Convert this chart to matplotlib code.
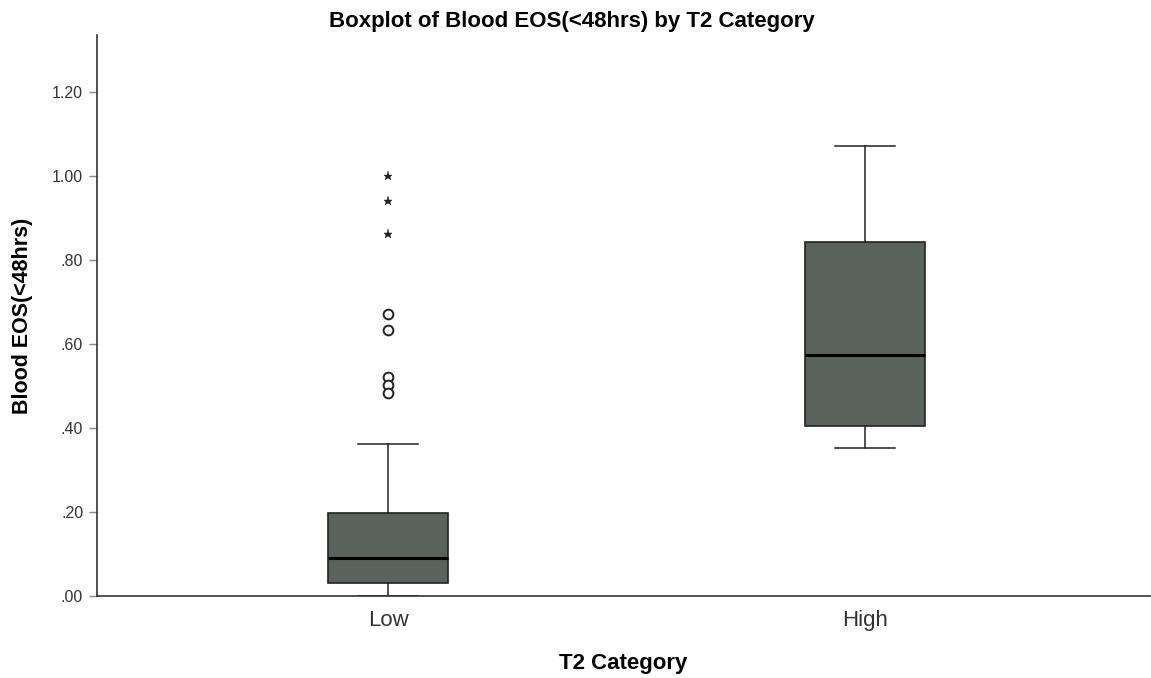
import matplotlib
matplotlib.use("Agg")
import matplotlib.pyplot as plt

plt.rcParams["font.family"] = ["Liberation Sans", "DejaVu Sans"]

# values
categories = ["Low", "High"]
q1 = [0.031, 0.405]
median = [0.090, 0.574]
q3 = [0.198, 0.843]
whisker_low = [0.000, 0.352]
whisker_high = [0.362, 1.071]
outliers_low = [0.671, 0.633, 0.521, 0.502, 0.483]
extremes_low = [1.000, 0.940, 0.862]
y_ticks = [0.0, 0.2, 0.4, 0.6, 0.8, 1.0, 1.2]

box_color = "#59625b"
axis_color = "#333333"

stats = []
for i, name in enumerate(categories):
    stats.append({
        "label": name,
        "q1": q1[i],
        "med": median[i],
        "q3": q3[i],
        "whislo": whisker_low[i],
        "whishi": whisker_high[i],
        "fliers": outliers_low if i == 0 else [],
    })

fig = plt.figure(figsize=(11.51, 6.78), dpi=100)
ax = fig.add_axes([0.0843, 0.121, 0.9147, 0.827])

ax.bxp(
    stats,
    positions=[0, 1],
    widths=0.25,
    patch_artist=True,
    boxprops=dict(facecolor=box_color, edgecolor="#222222", linewidth=1.2),
    medianprops=dict(color="black", linewidth=2.2),
    whiskerprops=dict(color="#222222", linewidth=1.1),
    capprops=dict(color="#222222", linewidth=1.1),
    capwidths=0.125,
    flierprops=dict(marker="o", markersize=7, markerfacecolor="white",
                    markeredgecolor="#222222", markeredgewidth=1.4),
    zorder=2,
)
# extreme values drawn as stars, SPSS style
ax.plot([0] * len(extremes_low), extremes_low, linestyle="none", marker="*",
        markersize=6.5, color="#222222", markeredgewidth=0.3, zorder=3)

ax.set_xlim(-0.61, 1.597)
ax.set_ylim(0, 1.336)
ax.set_yticks(y_ticks)
ax.set_yticklabels([f"{v:.2f}".lstrip("0") if v < 1 else f"{v:.2f}" for v in y_ticks])
ax.set_xticks([0, 1])
ax.set_xticklabels(categories)

ax.spines["top"].set_visible(False)
ax.spines["right"].set_visible(False)
ax.spines["left"].set_color(axis_color)
ax.spines["bottom"].set_color(axis_color)
ax.spines["left"].set_linewidth(1.2)
ax.spines["bottom"].set_linewidth(1.2)

ax.tick_params(axis="y", length=6, width=1, color="#888888", labelsize=11.5,
               labelcolor=axis_color, pad=4)
ax.tick_params(axis="x", length=0, labelsize=16, labelcolor=axis_color, pad=10)

ax.set_xlabel("T2 Category", fontsize=16, fontweight="bold", labelpad=16)
ax.set_ylabel("Blood EOS(<48hrs)", fontsize=15.5, fontweight="bold", labelpad=14)
fig.suptitle("Boxplot of Blood EOS(<48hrs) by T2 Category", fontsize=16,
             fontweight="bold", x=0.4965, y=0.984)

fig.savefig("out.png", dpi=100, facecolor="white")
